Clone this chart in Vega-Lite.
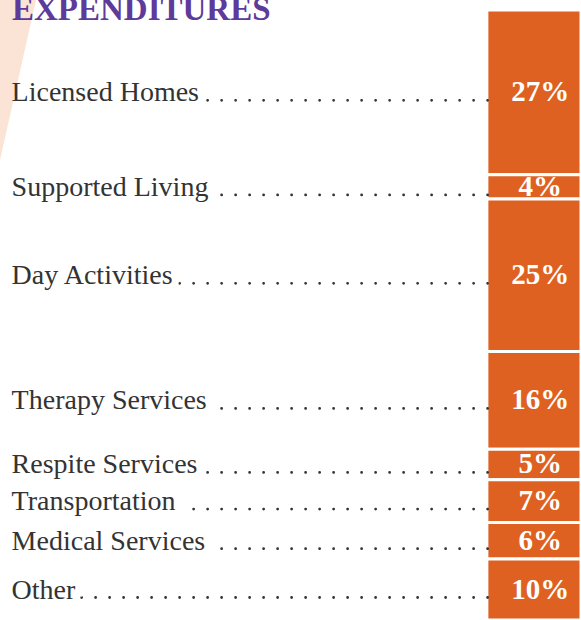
{
  "$schema": "https://vega.github.io/schema/vega-lite/v6.json",
  "width": 581,
  "height": 610,
  "autosize": {"type": "none"},
  "padding": {"left": 0, "right": 0, "top": 10, "bottom": 0},
  "background": "white",
  "title": {
    "text": "EXPENDITURES",
    "anchor": "start",
    "frame": "group",
    "orient": "top",
    "offset": -53,
    "dx": 12,
    "baseline": "alphabetic",
    "font": "Liberation Serif",
    "fontSize": 33,
    "fontWeight": "bold",
    "color": "#5e3a9a"
  },
  "config": {"view": {"stroke": null}},
  "data": {
    "values": [
      {"rank": 1, "category": "Licensed Homes", "pct": 27, "label": "27%"},
      {"rank": 2, "category": "Supported Living", "pct": 4, "label": "4%"},
      {"rank": 3, "category": "Day Activities", "pct": 25, "label": "25%"},
      {"rank": 4, "category": "Therapy Services", "pct": 16, "label": "16%"},
      {"rank": 5, "category": "Respite Services", "pct": 5, "label": "5%"},
      {"rank": 6, "category": "Transportation", "pct": 7, "label": "7%"},
      {"rank": 7, "category": "Medical Services", "pct": 6, "label": "6%"},
      {"rank": 8, "category": "Other", "pct": 10, "label": "10%"}
    ]
  },
  "layer": [
    {
      "mark": {"type": "bar", "orient": "vertical", "color": "#de6121", "stroke": "white", "strokeWidth": 3},
      "encoding": {
        "x": {"datum": 83.8, "type": "quantitative", "scale": {"domain": [0, 100], "nice": false, "zero": false, "padding": 0}, "axis": null},
        "x2": {"datum": 100},
        "y": {"field": "pct", "type": "quantitative", "stack": "zero", "scale": {"domain": [0, 100], "reverse": true, "nice": false, "padding": 0}, "axis": null},
        "detail": {"field": "category"},
        "order": {"field": "rank", "type": "quantitative"}
      }
    },
    {
      "mark": {"type": "rule", "color": "#333333", "strokeWidth": 2.8, "strokeCap": "round", "strokeDash": [0, 14], "yOffset": 8},
      "encoding": {
        "x": {"datum": 2, "type": "quantitative"},
        "x2": {"datum": 86.3},
        "y": {"field": "pct", "type": "quantitative", "stack": "zero", "bandPosition": 0.5},
        "detail": {"field": "category"},
        "order": {"field": "rank", "type": "quantitative"}
      }
    },
    {
      "mark": {"type": "text", "align": "left", "baseline": "alphabetic", "dy": 9, "font": "Liberation Serif", "fontSize": 28, "fill": "white", "stroke": "white", "strokeWidth": 14},
      "encoding": {
        "x": {"datum": 2, "type": "quantitative"},
        "y": {"field": "pct", "type": "quantitative", "stack": "zero", "bandPosition": 0.5},
        "text": {"field": "category"},
        "detail": {"field": "category"},
        "order": {"field": "rank", "type": "quantitative"}
      }
    },
    {
      "data": {"values": [{}]},
      "mark": {"type": "point", "shape": "M -1 -1 L -0.55 -1 L -1 1 Z", "size": 25600, "filled": true, "color": "#fbe3d5", "opacity": 1, "strokeWidth": 0},
      "encoding": {
        "x": {"datum": 13.77, "type": "quantitative"},
        "y": {"datum": 11.48, "type": "quantitative"}
      }
    },
    {
      "mark": {"type": "text", "align": "left", "baseline": "alphabetic", "dy": 9, "font": "Liberation Serif", "fontSize": 28, "color": "#333333"},
      "encoding": {
        "x": {"datum": 2, "type": "quantitative"},
        "y": {"field": "pct", "type": "quantitative", "stack": "zero", "bandPosition": 0.5},
        "text": {"field": "category"},
        "detail": {"field": "category"},
        "order": {"field": "rank", "type": "quantitative"}
      }
    },
    {
      "mark": {"type": "text", "align": "center", "baseline": "alphabetic", "dy": 9, "font": "Liberation Serif", "fontSize": 29, "fontWeight": "bold", "color": "white"},
      "encoding": {
        "x": {"datum": 93, "type": "quantitative"},
        "y": {"field": "pct", "type": "quantitative", "stack": "zero", "bandPosition": 0.5},
        "text": {"field": "label"},
        "detail": {"field": "category"},
        "order": {"field": "rank", "type": "quantitative"}
      }
    }
  ]
}
